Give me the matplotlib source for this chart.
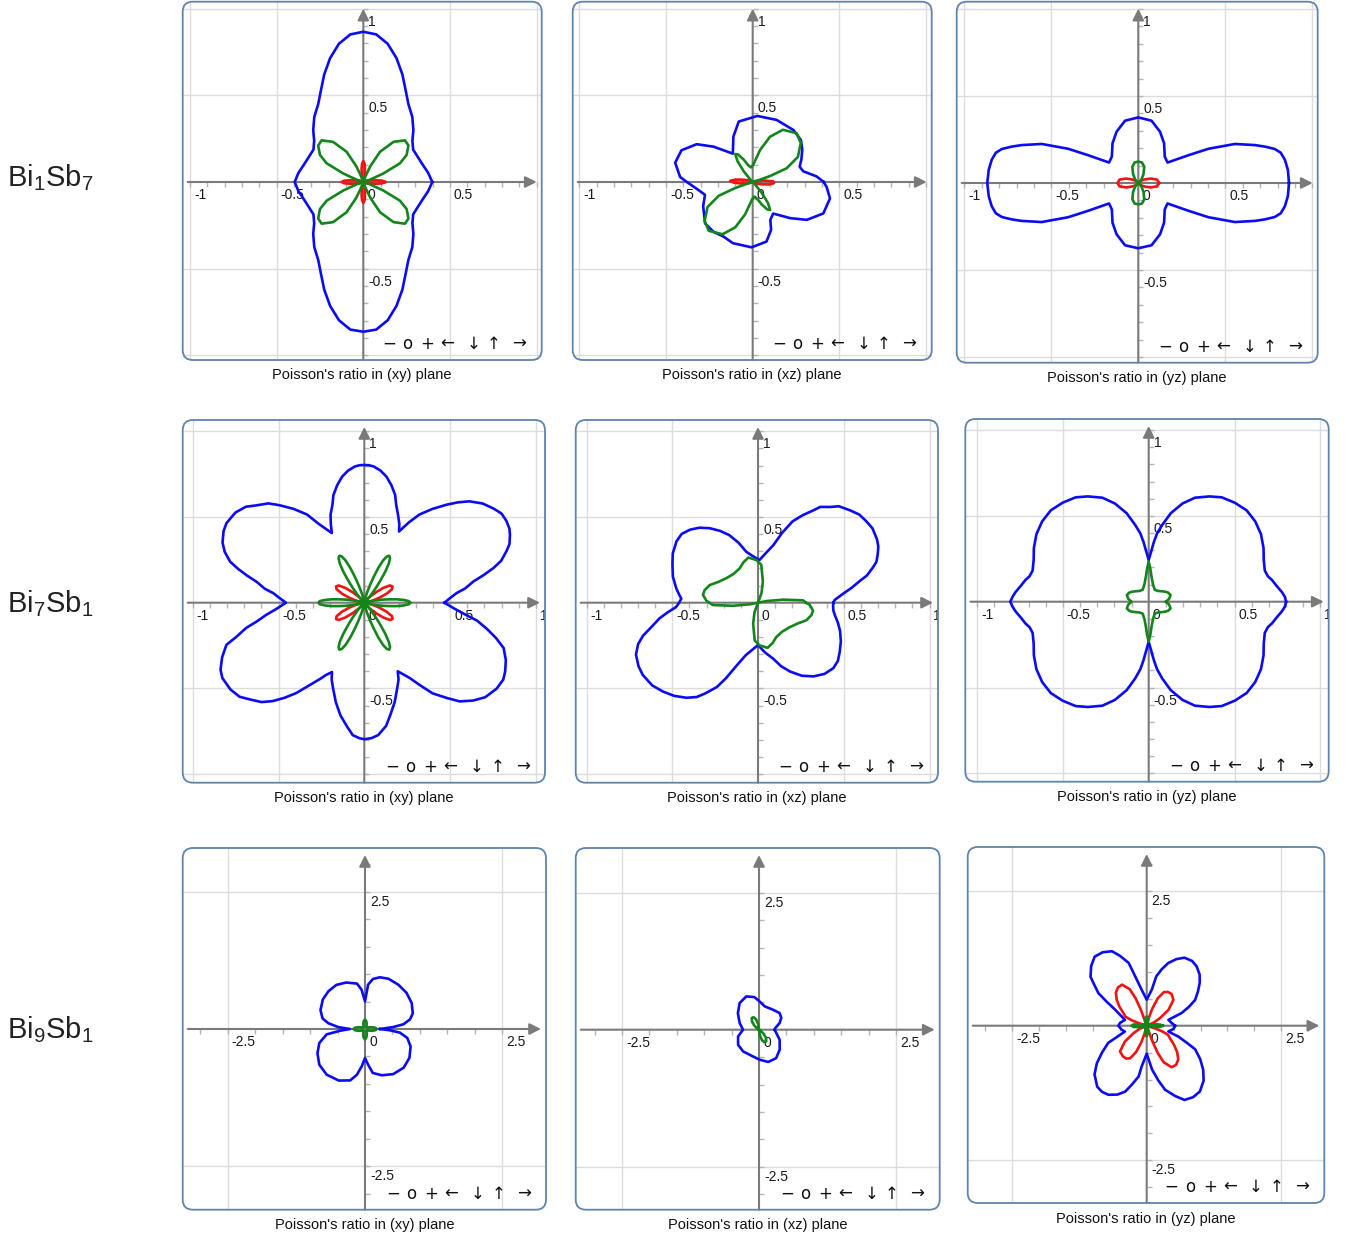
import numpy as np
import matplotlib
matplotlib.use("Agg")
import matplotlib.pyplot as plt
from matplotlib.patches import FancyBboxPatch

plt.rcParams['font.family'] = ['Liberation Sans', 'DejaVu Sans']

# ---------------------------------------------------------------------------
# Poisson's ratio vs direction angle (degrees)
# ---------------------------------------------------------------------------

# Bi1Sb7, (xy) plane
bi1sb7_xy_blue_deg = [0, 8, 18, 26, 33, 40, 46, 53, 60, 65, 70, 75, 80, 85, 90,
                      95, 100, 105, 110, 115, 120, 127, 134, 140, 147, 154, 162, 172, 180,
                      188, 198, 206, 213, 220, 226, 233, 240, 245, 250, 255, 260, 265, 270,
                      275, 280, 285, 290, 295, 300, 307, 314, 320, 327, 334, 342, 352, 360]
bi1sb7_xy_blue_nu = [0.398, 0.378, 0.354, 0.345, 0.343, 0.37, 0.416, 0.47, 0.52, 0.58, 0.66, 0.74, 0.81, 0.855, 0.867,
                     0.855, 0.81, 0.74, 0.66, 0.58, 0.52, 0.47, 0.416, 0.37, 0.343, 0.345, 0.354, 0.378, 0.396,
                     0.378, 0.354, 0.345, 0.343, 0.37, 0.416, 0.47, 0.52, 0.58, 0.66, 0.74, 0.81, 0.855, 0.864,
                     0.855, 0.81, 0.74, 0.66, 0.58, 0.52, 0.47, 0.416, 0.37, 0.343, 0.345, 0.354, 0.378, 0.398]
bi1sb7_xy_green_deg = [0, 15, 19, 23, 27, 32, 39, 45, 53, 61, 66, 70, 73,
                       107, 110, 114, 119, 127, 135, 141, 148, 153, 157, 161, 165,
                       195, 199, 203, 207, 212, 219, 225, 233, 241, 246, 250, 253,
                       287, 290, 294, 299, 307, 315, 321, 328, 333, 337, 341, 345, 360]
bi1sb7_xy_green_nu = [0, 0, 0.04, 0.125, 0.237, 0.295, 0.335, 0.34, 0.29, 0.2, 0.1, 0.03, 0,
                      0, 0.03, 0.1, 0.2, 0.29, 0.34, 0.335, 0.295, 0.237, 0.125, 0.04, 0,
                      0, 0.04, 0.125, 0.237, 0.295, 0.335, 0.34, 0.29, 0.2, 0.1, 0.03, 0,
                      0, 0.03, 0.1, 0.2, 0.29, 0.34, 0.335, 0.295, 0.237, 0.125, 0.04, 0, 0]
bi1sb7_xy_red_deg = [0, 4, 7, 12, 18, 25, 35,
                     55, 65, 72, 78, 83, 86, 90, 94, 97, 102, 108, 115, 125,
                     145, 155, 162, 168, 173, 176, 180, 184, 187, 192, 198, 205, 215,
                     235, 245, 252, 258, 263, 266, 270, 274, 277, 282, 288, 295, 305,
                     325, 335, 342, 348, 353, 356, 360]
bi1sb7_xy_red_nu = [0.125, 0.11, 0.08, 0.045, 0.025, 0.01, 0,
                    0, 0.01, 0.025, 0.045, 0.08, 0.105, 0.121, 0.105, 0.08, 0.045, 0.025, 0.01, 0,
                    0, 0.01, 0.025, 0.045, 0.08, 0.11, 0.125, 0.11, 0.08, 0.045, 0.025, 0.01, 0,
                    0, 0.01, 0.025, 0.045, 0.08, 0.105, 0.121, 0.105, 0.08, 0.045, 0.025, 0.01, 0,
                    0, 0.01, 0.025, 0.045, 0.08, 0.11, 0.125]

# Bi1Sb7, (xz) plane
bi1sb7_xz_blue_deg = [0, 5, 12, 18, 25, 33, 41, 52, 69, 86,
                      103, 113, 125, 138, 146, 156, 166, 176, 180,
                      187, 195, 206, 221, 232, 242, 252, 269,
                      283, 291, 295, 303, 316, 325, 336, 348, 356, 360]
bi1sb7_xz_blue_nu = [0.41, 0.37, 0.298, 0.285, 0.31, 0.341, 0.369, 0.381, 0.384, 0.382,
                     0.358, 0.285, 0.2, 0.305, 0.39, 0.45, 0.461, 0.42, 0.38,
                     0.325, 0.285, 0.318, 0.364, 0.366, 0.357, 0.371, 0.377,
                     0.353, 0.296, 0.241, 0.217, 0.30, 0.381, 0.446, 0.456, 0.428, 0.41]
bi1sb7_xz_green_deg = [0, 15, 17, 19, 22, 29, 39, 48, 60, 69, 77, 88, 97, 105, 112, 118, 122, 126, 130, 134, 137,
                       195, 197, 199, 202, 209, 219, 228, 240, 249, 257, 268, 277, 285, 292, 298, 302, 306, 310, 314, 317,
                       360]
bi1sb7_xz_green_nu = [0, 0, 0.04, 0.106, 0.211, 0.298, 0.357, 0.379, 0.348, 0.28, 0.19, 0.1, 0.085, 0.1, 0.14, 0.18, 0.19, 0.15, 0.08, 0.02, 0,
                      0, 0.04, 0.106, 0.211, 0.298, 0.357, 0.379, 0.348, 0.28, 0.19, 0.1, 0.085, 0.1, 0.14, 0.18, 0.19, 0.15, 0.08, 0.02, 0,
                      0]
bi1sb7_xz_red_deg = [0, 2, 7, 13, 22, 35,
                     135, 150, 160, 167, 172, 177, 182, 187, 193, 202, 215,
                     315, 330, 340, 347, 352, 357, 360]
bi1sb7_xz_red_nu = [0.118, 0.11, 0.07, 0.035, 0.012, 0,
                    0, 0.01, 0.03, 0.06, 0.1, 0.13, 0.11, 0.07, 0.035, 0.012, 0,
                    0, 0.01, 0.03, 0.06, 0.1, 0.123, 0.118]

# Bi1Sb7, (yz) plane
bi1sb7_yz_blue_deg = [0, 5, 9, 12, 14, 16, 18, 22, 26, 29, 35, 45, 57, 67, 78, 90,
                      102, 113, 123, 135, 145, 151, 154, 158, 162, 164, 166, 168, 171, 175, 180,
                      185, 189, 192, 194, 196, 198, 202, 206, 209, 215, 225, 237, 247, 258, 270,
                      282, 293, 303, 315, 325, 331, 334, 338, 342, 344, 346, 348, 351, 355, 360]
bi1sb7_yz_blue_nu = [0.866, 0.863, 0.853, 0.837, 0.808, 0.758, 0.705, 0.599, 0.449, 0.329, 0.205, 0.215, 0.272, 0.32, 0.366, 0.377,
                     0.366, 0.32, 0.272, 0.215, 0.205, 0.329, 0.449, 0.599, 0.705, 0.758, 0.808, 0.837, 0.853, 0.863, 0.868,
                     0.863, 0.853, 0.837, 0.808, 0.758, 0.705, 0.599, 0.449, 0.329, 0.205, 0.215, 0.272, 0.32, 0.366, 0.375,
                     0.366, 0.32, 0.272, 0.215, 0.205, 0.329, 0.449, 0.599, 0.705, 0.758, 0.808, 0.837, 0.853, 0.863, 0.866]
bi1sb7_yz_green_deg = [0, 30, 40, 50, 60, 70, 80, 90, 100, 110, 120, 130, 140, 150,
                       210, 220, 230, 240, 250, 260, 270, 280, 290, 300, 310, 320, 330, 360]
bi1sb7_yz_green_nu = [0, 0, 0.01, 0.03, 0.06, 0.1, 0.12, 0.123, 0.12, 0.1, 0.06, 0.03, 0.01, 0,
                      0, 0.01, 0.03, 0.06, 0.1, 0.12, 0.123, 0.12, 0.1, 0.06, 0.03, 0.01, 0, 0]
bi1sb7_yz_red_deg = [0, 10, 20, 30, 40, 50, 60,
                     120, 130, 140, 150, 160, 170, 180, 190, 200, 210, 220, 230, 240,
                     300, 310, 320, 330, 340, 350, 360]
bi1sb7_yz_red_nu = [0.119, 0.11, 0.075, 0.04, 0.02, 0.005, 0,
                    0, 0.005, 0.02, 0.04, 0.075, 0.11, 0.119, 0.11, 0.075, 0.04, 0.02, 0.005, 0,
                    0, 0.005, 0.02, 0.04, 0.075, 0.11, 0.119]

# Bi7Sb1, (xy) plane
bi7sb1_xy_blue_deg = [0, 3, 6, 8, 11, 13, 15, 17, 20, 22, 25, 27, 30, 33, 36, 40, 44, 47, 50, 54, 58, 61, 64,
                      66, 69, 72, 74, 77, 80, 83, 86, 88, 90, 92, 94, 97, 100, 103, 106, 108, 111, 113, 115,
                      120, 123, 127, 131, 134, 138, 141, 145, 150, 153, 157, 160, 163, 165, 167, 169, 172, 174, 177, 180,
                      184, 187, 190, 192, 195, 197, 201, 205, 208, 213, 217, 220, 224, 227, 230, 233, 236, 240, 242, 245,
                      247, 250, 254, 258, 262, 265, 268, 270, 273, 276, 280, 283, 287, 291, 294, 296,
                      301, 304, 307, 311, 314, 318, 322, 327, 331, 334, 338, 342, 345, 348, 351, 353, 356, 360]
bi7sb1_xy_blue_nu = [0.467, 0.5, 0.542, 0.593, 0.648, 0.713, 0.779, 0.834, 0.883, 0.913, 0.937, 0.95, 0.956, 0.954,
                     0.933, 0.9, 0.851, 0.8, 0.746, 0.676, 0.606, 0.535, 0.462,
                     0.502, 0.549, 0.601, 0.653, 0.703, 0.746, 0.776, 0.796, 0.802, 0.803, 0.802, 0.796, 0.776, 0.746,
                     0.703, 0.653, 0.601, 0.549, 0.5, 0.448,
                     0.53, 0.613, 0.685, 0.753, 0.805, 0.848, 0.889, 0.917, 0.928, 0.921, 0.898, 0.866, 0.818, 0.762,
                     0.701, 0.64, 0.586, 0.534, 0.493, 0.457,
                     0.513, 0.575, 0.639, 0.703, 0.774, 0.841, 0.888, 0.925, 0.937, 0.93, 0.911, 0.876, 0.834, 0.785,
                     0.724, 0.66, 0.586, 0.512, 0.478, 0.446,
                     0.487, 0.532, 0.603, 0.671, 0.728, 0.775, 0.791, 0.796, 0.791, 0.776, 0.73, 0.673, 0.606, 0.535,
                     0.491, 0.445,
                     0.511, 0.58, 0.662, 0.737, 0.8, 0.853, 0.895, 0.92, 0.926, 0.914, 0.89, 0.854, 0.795, 0.73,
                     0.665, 0.601, 0.531, 0.467]
bi7sb1_xy_green_deg = [0, 2, 4, 6, 8, 10, 13, 17, 22,
                       40, 45, 49, 52, 54, 56, 58, 60, 62, 64, 66, 68, 70, 72, 75, 79, 84,
                       96, 101, 105, 108, 110, 112, 114, 116, 118, 120, 122, 124, 126, 128, 131, 135, 140,
                       158, 163, 167, 170, 172, 174, 176, 178, 180, 182, 184, 186, 188, 190, 193, 197, 202,
                       220, 225, 229, 232, 234, 236, 238, 240, 242, 244, 246, 248, 250, 252, 255, 259, 264,
                       276, 281, 285, 288, 290, 292, 294, 296, 298, 300, 302, 304, 306, 308, 311, 315, 320,
                       338, 343, 347, 350, 352, 354, 356, 358, 360]
bi7sb1_xy_green_nu = [0.267, 0.26, 0.23, 0.19, 0.14, 0.1, 0.05, 0.015, 0,
                      0, 0.02, 0.06, 0.11, 0.16, 0.22, 0.27, 0.3, 0.31, 0.3, 0.27, 0.22, 0.16, 0.11, 0.06, 0.02, 0,
                      0, 0.02, 0.06, 0.11, 0.16, 0.22, 0.27, 0.3, 0.31, 0.3, 0.27, 0.22, 0.16, 0.11, 0.06, 0.02, 0,
                      0, 0.015, 0.05, 0.1, 0.14, 0.19, 0.23, 0.26, 0.267, 0.26, 0.23, 0.19, 0.14, 0.1, 0.05, 0.015, 0,
                      0, 0.02, 0.06, 0.11, 0.16, 0.22, 0.27, 0.3, 0.31, 0.3, 0.27, 0.22, 0.16, 0.11, 0.06, 0.02, 0,
                      0, 0.02, 0.06, 0.11, 0.16, 0.22, 0.27, 0.3, 0.31, 0.3, 0.27, 0.22, 0.16, 0.11, 0.06, 0.02, 0,
                      0, 0.015, 0.05, 0.1, 0.14, 0.19, 0.23, 0.26, 0.267]
bi7sb1_xy_red_deg = [0, 8, 14, 18, 22, 26, 30, 34, 38, 42, 46, 52, 60,
                     120, 128, 134, 138, 142, 146, 150, 154, 158, 162, 166, 172, 180,
                     188, 194, 198, 202, 206, 210, 214, 218, 222, 226, 232, 240,
                     300, 308, 314, 318, 322, 326, 330, 334, 338, 342, 346, 352, 360]
bi7sb1_xy_red_nu = [0, 0.02, 0.05, 0.09, 0.14, 0.18, 0.19, 0.18, 0.14, 0.09, 0.05, 0.02, 0,
                    0, 0.02, 0.05, 0.09, 0.14, 0.18, 0.19, 0.18, 0.14, 0.09, 0.05, 0.02, 0,
                    0.02, 0.05, 0.09, 0.14, 0.18, 0.19, 0.18, 0.14, 0.09, 0.05, 0.02, 0,
                    0, 0.02, 0.05, 0.09, 0.14, 0.18, 0.19, 0.18, 0.14, 0.09, 0.05, 0.02, 0]

# Bi7Sb1, (xz) plane
bi7sb1_xz_blue_deg = [0, 2, 4, 6, 9, 12, 14, 17, 19, 22, 25, 28, 33, 37, 41, 45, 50, 53, 57, 59, 63, 67, 71, 75, 81, 88,
                      96, 103, 108, 113, 118, 123, 128, 133, 138, 143, 150, 156, 163, 170, 174, 177,
                      180, 183, 186, 189, 193, 196, 199, 203, 208, 212, 218, 223, 228, 233, 237, 240, 244, 247, 251,
                      257, 264, 270,
                      278, 285, 290, 295, 301, 307, 313, 319, 324, 329, 335, 341, 346, 351, 354, 358, 360]
bi7sb1_xz_blue_nu = [0.44, 0.447, 0.471, 0.499, 0.552, 0.606, 0.654, 0.7, 0.73, 0.753, 0.774, 0.786, 0.796, 0.79,
                     0.783, 0.761, 0.734, 0.699, 0.666, 0.629, 0.572, 0.515, 0.43, 0.348, 0.293, 0.249,
                     0.272, 0.305, 0.368, 0.428, 0.475, 0.518, 0.555, 0.582, 0.599, 0.595, 0.574, 0.546, 0.519,
                     0.484, 0.463, 0.448,
                     0.46, 0.478, 0.528, 0.581, 0.64, 0.697, 0.739, 0.773, 0.789, 0.793, 0.783, 0.759, 0.731, 0.694,
                     0.656, 0.609, 0.547, 0.479, 0.391, 0.313, 0.272, 0.247,
                     0.293, 0.337, 0.394, 0.443, 0.497, 0.538, 0.568, 0.582, 0.576, 0.556, 0.533, 0.506, 0.48,
                     0.453, 0.442, 0.438, 0.44]
bi7sb1_xz_green_deg = [0, 3, 7, 11, 15, 60, 70, 77, 85, 92, 102, 110, 118, 130, 142,
                       152, 160, 167, 172, 178, 183, 187, 191, 195, 240, 250, 257, 265, 272, 282, 290, 298, 310, 322,
                       332, 340, 347, 352, 358, 360]
bi7sb1_xz_green_nu = [0.28, 0.263, 0.147, 0.05, 0, 0, 0.06, 0.126, 0.221, 0.249, 0.269, 0.25, 0.227, 0.22, 0.233,
                      0.26, 0.3, 0.32, 0.324, 0.3, 0.263, 0.147, 0.05, 0, 0, 0.06, 0.126, 0.221, 0.249, 0.269, 0.25,
                      0.227, 0.22, 0.233,
                      0.26, 0.3, 0.32, 0.324, 0.3, 0.28]

# Bi7Sb1, (yz) plane
bi7sb1_yz_blue_deg = [0, 2, 4, 7, 10, 12, 15, 20, 25, 31, 37, 43, 49, 55, 60, 66, 71, 76, 80, 83, 85, 90,
                      95, 97, 100, 104, 109, 114, 120, 125, 131, 137, 143, 149, 155, 160, 165, 168, 170, 173, 176,
                      178, 180,
                      182, 184, 187, 190, 192, 195, 200, 205, 211, 217, 223, 229, 235, 240, 246, 251, 256, 260, 263,
                      265, 270,
                      275, 277, 280, 284, 289, 294, 300, 305, 311, 317, 323, 329, 335, 340, 345, 348, 350, 353, 356,
                      358, 360]
bi7sb1_yz_blue_nu = [0.8, 0.794, 0.779, 0.751, 0.729, 0.71, 0.7, 0.713, 0.738, 0.763, 0.777, 0.78, 0.764, 0.742,
                     0.708, 0.663, 0.605, 0.531, 0.454, 0.401, 0.35, 0.243,
                     0.35, 0.401, 0.454, 0.531, 0.605, 0.663, 0.708, 0.742, 0.764, 0.78, 0.777, 0.763, 0.738, 0.713,
                     0.7, 0.71, 0.729, 0.751, 0.779, 0.794, 0.806,
                     0.794, 0.779, 0.751, 0.729, 0.71, 0.7, 0.713, 0.738, 0.763, 0.777, 0.78, 0.764, 0.742, 0.708,
                     0.663, 0.605, 0.531, 0.454, 0.395, 0.34, 0.233,
                     0.34, 0.395, 0.454, 0.531, 0.605, 0.663, 0.708, 0.742, 0.764, 0.78, 0.777, 0.763, 0.738, 0.713,
                     0.7, 0.71, 0.729, 0.751, 0.779, 0.794, 0.8]
bi7sb1_yz_green_deg = [0, 8, 17, 25, 31, 40, 50, 63, 76, 84, 87, 90,
                       93, 96, 104, 117, 130, 140, 149, 155, 163, 172, 180,
                       188, 197, 205, 211, 220, 230, 243, 256, 264, 267, 270,
                       273, 276, 284, 297, 310, 320, 329, 335, 343, 352, 360]
bi7sb1_yz_green_nu = [0.1, 0.12, 0.133, 0.125, 0.113, 0.095, 0.082, 0.078, 0.103, 0.151, 0.19, 0.235,
                      0.19, 0.151, 0.103, 0.078, 0.082, 0.095, 0.113, 0.125, 0.133, 0.12, 0.1,
                      0.12, 0.133, 0.125, 0.113, 0.095, 0.082, 0.078, 0.103, 0.151, 0.19, 0.233,
                      0.19, 0.151, 0.103, 0.078, 0.082, 0.095, 0.113, 0.125, 0.133, 0.12, 0.1]

# Bi9Sb1, (xy) plane
bi9sb1_xy_blue_deg = [0, 4, 7, 12, 18, 29, 41, 53, 65, 74, 81, 86, 88, 90, 95, 100, 112, 123, 134, 145,
                      157, 166, 171, 176, 180, 184, 188, 197, 207, 218, 230, 243, 254, 260, 265, 270, 275, 280, 290, 302,
                      315, 327, 339, 348, 354, 357, 360]
bi9sb1_xy_blue_nu = [0.273, 0.517, 0.704, 0.837, 0.915, 0.973, 1.003, 1.01, 1.01, 0.98,
                     0.922, 0.81, 0.62, 0.504, 0.719, 0.84, 0.913, 0.958, 0.958, 0.938,
                     0.881, 0.797, 0.677, 0.487, 0.273, 0.456, 0.706, 0.87, 0.972, 1.056,
                     1.086, 1.054, 0.974, 0.844, 0.683, 0.528, 0.653, 0.813, 0.897, 0.969,
                     0.996, 0.965, 0.89, 0.788, 0.642, 0.456, 0.273]
bi9sb1_xy_green_deg = [0, 8, 16, 28, 45, 62, 74, 82, 90, 98, 106, 118, 135, 152, 164, 172, 180,
                       188, 196, 208, 225, 242, 254, 262, 270, 278, 286, 298, 315, 332, 344, 352, 360]
bi9sb1_xy_green_nu = [0.21, 0.18, 0.12, 0.06, 0.04, 0.06, 0.11, 0.15, 0.17, 0.15, 0.11, 0.06, 0.04, 0.06, 0.12, 0.18, 0.21,
                      0.18, 0.12, 0.06, 0.04, 0.06, 0.12, 0.16, 0.19, 0.16, 0.12, 0.06, 0.04, 0.06, 0.12, 0.18, 0.21]

# Bi9Sb1, (xz) plane
bi9sb1_xz_blue_deg = [0, 6, 18, 28, 39, 55, 76, 89, 98, 111, 126, 142, 161, 180, 198, 216, 234, 254, 271, 286,
                      301, 316, 334, 349, 360]
bi9sb1_xz_blue_nu = [0.285, 0.3, 0.396, 0.46, 0.484, 0.445, 0.438, 0.517, 0.601, 0.65,
                     0.601, 0.489, 0.373, 0.292, 0.402, 0.471, 0.491, 0.494, 0.547, 0.612,
                     0.606, 0.525, 0.419, 0.322, 0.285]
bi9sb1_xz_green_deg = [0, 90, 98, 106, 114, 122, 130, 138, 146, 152, 270, 278, 286, 294, 302, 310, 318, 326, 332, 360]
bi9sb1_xz_green_nu = [0, 0, 0.1, 0.2, 0.25, 0.25, 0.2, 0.12, 0.04, 0, 0, 0.1, 0.2, 0.25, 0.25, 0.2, 0.12, 0.04, 0, 0]

# Bi9Sb1, (yz) plane
bi9sb1_yz_blue_deg = [0, 6, 15, 20, 24, 28, 34, 39, 44, 50, 55, 61, 66, 71, 75, 79, 82, 90,
                      98, 101, 106, 111, 115, 121, 127, 133, 139, 142, 146, 149, 153, 158, 165, 174, 180,
                      189, 195, 201, 204, 211, 217, 223, 231, 236, 241, 247, 252, 256, 261, 263, 270,
                      277, 282, 286, 292, 297, 303, 309, 316, 322, 328, 334, 337, 341, 345, 353, 360]
bi9sb1_yz_blue_nu = [0.527, 0.468, 0.418, 0.692, 0.855, 1.02, 1.151, 1.269, 1.368, 1.442, 1.47, 1.446, 1.354, 1.233,
                     1.089, 0.936, 0.675, 0.483,
                     0.675, 0.808, 1.214, 1.393, 1.527, 1.592, 1.607, 1.514, 1.383, 1.237, 1.084, 0.87, 0.66, 0.529,
                     0.418, 0.498, 0.527,
                     0.471, 0.42, 0.602, 0.782, 0.969, 1.16, 1.326, 1.461, 1.484, 1.468, 1.391, 1.286, 1.124, 0.955,
                     0.76, 0.52,
                     0.823, 1.041, 1.238, 1.409, 1.549, 1.584, 1.572, 1.471, 1.333, 1.173, 1.003, 0.809, 0.621, 0.416,
                     0.5, 0.527]
bi9sb1_yz_green_deg = [0, 5, 10, 15, 25, 45, 65, 75, 82, 90, 98, 105, 115, 135, 155, 165, 170, 175, 180,
                       185, 190, 195, 205, 225, 245, 255, 262, 270, 278, 285, 295, 315, 335, 345, 350, 355, 360]
bi9sb1_yz_green_nu = [0.3, 0.25, 0.15, 0.1, 0.05, 0.03, 0.05, 0.1, 0.14, 0.17, 0.14, 0.1, 0.05, 0.03, 0.05, 0.1, 0.15, 0.25, 0.28,
                      0.25, 0.15, 0.1, 0.05, 0.03, 0.05, 0.1, 0.14, 0.2, 0.14, 0.1, 0.05, 0.03, 0.05, 0.1, 0.15, 0.25, 0.3]
bi9sb1_yz_red_deg = [0, 20, 24, 30, 36, 44, 52, 58, 63, 68, 72, 75, 78,
                     108, 110, 112, 115, 121, 127, 133, 139, 145, 151, 157, 160, 162, 164, 166,
                     200, 204, 210, 216, 224, 232, 238, 243, 248, 252, 255, 258,
                     288, 290, 292, 295, 301, 307, 313, 319, 325, 331, 337, 340, 342, 344, 346, 360]
bi9sb1_yz_red_nu = [0, 0, 0.15, 0.29, 0.5, 0.69, 0.75, 0.74, 0.7, 0.55, 0.33, 0.15, 0,
                    0, 0.3, 0.55, 0.75, 0.89, 0.89, 0.84, 0.74, 0.62, 0.5, 0.43, 0.3, 0.16, 0.05, 0,
                    0, 0.15, 0.29, 0.5, 0.69, 0.72, 0.72, 0.68, 0.53, 0.33, 0.15, 0,
                    0, 0.3, 0.55, 0.75, 0.9, 0.91, 0.86, 0.75, 0.62, 0.5, 0.43, 0.3, 0.16, 0.05, 0, 0]

row_labels = [r'$\mathregular{Bi_1Sb_7}$', r'$\mathregular{Bi_7Sb_1}$', r'$\mathregular{Bi_9Sb_1}$']

# ---------------------------------------------------------------------------
# layout (pixels of the 1351x1238 picture)
# ---------------------------------------------------------------------------
W, H = 1351, 1238
BLUE, GREEN, RED = '#0b0bf5', '#13851a', '#f21212'

# box (left, top, right, bottom), origin (x, y), pixels per unit
panels = [
    dict(box=(182.7, 1.7, 541.7, 360), org=(363.3, 182), s=173.3, row=0, plane='xy',
         curves=[(bi1sb7_xy_blue_deg, bi1sb7_xy_blue_nu, BLUE), (bi1sb7_xy_red_deg, bi1sb7_xy_red_nu, RED),
                 (bi1sb7_xy_green_deg, bi1sb7_xy_green_nu, GREEN)]),
    dict(box=(572.7, 1.7, 931.7, 360), org=(752.7, 182), s=173.3, row=0, plane='xz',
         curves=[(bi1sb7_xz_blue_deg, bi1sb7_xz_blue_nu, BLUE), (bi1sb7_xz_red_deg, bi1sb7_xz_red_nu, RED),
                 (bi1sb7_xz_green_deg, bi1sb7_xz_green_nu, GREEN)]),
    dict(box=(956.7, 1.7, 1317.7, 362.7), org=(1138.3, 183), s=174, row=0, plane='yz',
         curves=[(bi1sb7_yz_blue_deg, bi1sb7_yz_blue_nu, BLUE), (bi1sb7_yz_red_deg, bi1sb7_yz_red_nu, RED),
                 (bi1sb7_yz_green_deg, bi1sb7_yz_green_nu, GREEN)]),
    dict(box=(182.7, 420, 545, 782.7), org=(364.3, 602.7), s=171.5, row=1, plane='xy',
         curves=[(bi7sb1_xy_blue_deg, bi7sb1_xy_blue_nu, BLUE), (bi7sb1_xy_red_deg, bi7sb1_xy_red_nu, RED),
                 (bi7sb1_xy_green_deg, bi7sb1_xy_green_nu, GREEN)]),
    dict(box=(575.7, 420, 938, 782.7), org=(758, 602.7), s=171.5, row=1, plane='xz',
         curves=[(bi7sb1_xz_blue_deg, bi7sb1_xz_blue_nu, BLUE), (bi7sb1_xz_green_deg, bi7sb1_xz_green_nu, GREEN)]),
    dict(box=(965.3, 419, 1328.7, 781.7), org=(1148.7, 601.7), s=171.7, row=1, plane='yz',
         curves=[(bi7sb1_yz_blue_deg, bi7sb1_yz_blue_nu, BLUE), (bi7sb1_yz_green_deg, bi7sb1_yz_green_nu, GREEN)]),
    dict(box=(182.7, 848, 546, 1209.7), org=(365, 1029), s=54.9, row=2, plane='xy',
         curves=[(bi9sb1_xy_blue_deg, bi9sb1_xy_blue_nu, BLUE), (bi9sb1_xy_green_deg, bi9sb1_xy_green_nu, GREEN)]),
    dict(box=(575.7, 848, 939.7, 1209.7), org=(759, 1029.7), s=54.8, row=2, plane='xz',
         curves=[(bi9sb1_xz_blue_deg, bi9sb1_xz_blue_nu, BLUE), (bi9sb1_xz_green_deg, bi9sb1_xz_green_nu, GREEN)]),
    dict(box=(967.7, 847, 1324.3, 1203), org=(1146.7, 1025.7), s=53.8, row=2, plane='yz',
         curves=[(bi9sb1_yz_blue_deg, bi9sb1_yz_blue_nu, BLUE), (bi9sb1_yz_red_deg, bi9sb1_yz_red_nu, RED),
                 (bi9sb1_yz_green_deg, bi9sb1_yz_green_nu, GREEN)]),
]

row_label_y = [178, 604, 1030]
tool_glyphs = ['\u2212', 'o', '+', '\u2190', '\u2193', '\u2191', '\u2192']
tool_dx = [-152.7, -134.4, -114.4, -94.4, -68.4, -47.7, -22.4]

fig = plt.figure(figsize=(W / 100, H / 100), dpi=100)


def fx(px):
    return px / W


def fy(py):
    return 1 - py / H


for p in panels:
    l, t, r, b = p['box']
    ox, oy = p['org']
    s = p['s']
    ax = fig.add_axes([fx(l), fy(b), (r - l) / W, (b - t) / H])
    ax.set_xlim((l - ox) / s, (r - ox) / s)
    ax.set_ylim((oy - b) / s, (oy - t) / s)
    ax.axis('off')
    x0, x1 = ax.get_xlim()
    y0, y1 = ax.get_ylim()

    if p['row'] < 2:
        grid = [-1, -0.5, 0.5, 1]
        minor = [k / 10 for k in range(-10, 11) if k != 0]
        xlab = [-1, -0.5, 0, 0.5] + ([1] if p['row'] == 1 else [])
        ylab = [1, 0.5, -0.5]
        ydy = -6
    else:
        grid = [-2.5, 2.5]
        minor = [k / 2 for k in range(-6, 7) if k != 0]
        xlab = [-2.5, 0, 2.5]
        ylab = [2.5, -2.5]
        ydy = -3

    for g in grid:
        ax.axvline(g, color='#dcdcdc', lw=1.0, zorder=0)
        ax.axhline(g, color='#dcdcdc', lw=1.0, zorder=0)

    tl = 5 / s
    ax.vlines(minor, -tl, 0, color='#b5b5b5', lw=1.0, zorder=1)
    ax.hlines(minor, 0, tl, color='#b5b5b5', lw=1.0, zorder=1)

    arrow = dict(arrowstyle='-|>', color='#7a7a7a', lw=1.5, mutation_scale=17, shrinkA=0, shrinkB=0)
    ax.annotate('', xy=(x1 - 5 / s, 0), xytext=(x0 + 5 / s, 0), arrowprops=arrow, zorder=1)
    ax.annotate('', xy=(0, y1 - 7 / s), xytext=(0, y0), arrowprops=arrow, zorder=1)

    for v in xlab:
        ax.annotate('%g' % v, xy=(v, 0), xytext=(4, -6), textcoords='offset pixels',
                    ha='left', va='top', fontsize=10, color='#1a1a1a', clip_on=True, zorder=2)
    for v in ylab:
        ax.annotate('%g' % v, xy=(0, v), xytext=(5, ydy), textcoords='offset pixels',
                    ha='left', va='top', fontsize=10, color='#1a1a1a', clip_on=True, zorder=2)

    for deg, nu, col in p['curves']:
        th = np.deg2rad(deg)
        nu = np.asarray(nu)
        ax.plot(nu * np.cos(th), nu * np.sin(th), color=col, lw=1.9,
                solid_joinstyle='round', zorder=3)

    frame = FancyBboxPatch((0, 0), 1, 1, boxstyle='round,pad=0,rounding_size=0.028',
                           transform=ax.transAxes, facecolor='none', edgecolor='#5e84b0',
                           lw=1.3, clip_on=False, zorder=5)
    ax.add_patch(frame)

    for g, dx in zip(tool_glyphs, tool_dx):
        fig.text(fx(r + dx), fy(b - 16), g, ha='center', va='center', fontsize=12,
                 color='#111111', family=['DejaVu Sans'])

    fig.text(fx((l + r) / 2), fy(b + 15.5), "Poisson's ratio in (%s) plane" % p['plane'],
             ha='center', va='center', fontsize=10.5, color='#111111')

for lab, yy in zip(row_labels, row_label_y):
    fig.text(fx(7), fy(yy), lab, ha='left', va='center', fontsize=21, color='#222222')

fig.savefig('out.png', dpi=100)
